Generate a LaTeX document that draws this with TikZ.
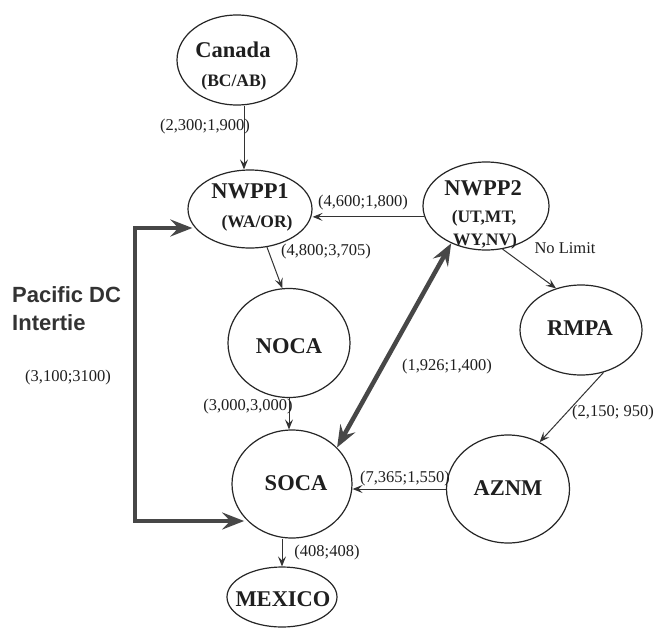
\documentclass[tikz,border=0pt]{standalone}
\usepackage{fontspec}
\setmainfont{Liberation Serif}
\newfontfamily\tiefont{Liberation Sans}
\usetikzlibrary{shapes.geometric,arrows.meta}
\begin{document}
\begin{tikzpicture}[x=1pt,y=-1pt,
  region/.style={draw=black!85, line width=1.2pt, ellipse, inner sep=0pt},
  regname/.style={font=\fontsize{22.5}{24}\selectfont\bfseries, text=black!88, inner sep=0pt, text depth=0pt},
  regsub/.style={font=\fontsize{17.5}{19}\selectfont\bfseries, text=black!88, inner sep=0pt, text depth=0pt},
  limit/.style={font=\fontsize{16.5}{18}\selectfont, text=black!88, inner sep=0pt},
  flow/.style={draw=black!80, line width=1pt, -{Stealth[length=10pt,width=8pt,inset=4pt]}},
  tie/.style={draw=black!72, line width=4.5pt,
    {Stealth[length=22pt,width=17pt,inset=8pt]}-{Stealth[length=22pt,width=17pt,inset=8pt]}}
]
\useasboundingbox (0,0) rectangle (658,629);
\fill[white] (0,0) rectangle (658,629);

% regions
\node[region, minimum width=120pt, minimum height=90pt] (canada) at (237,60) {};
\node[regname] (canada-name) at (233,50) {Canada};
\node[regsub] (canada-sub) at (234,80) {(BC/AB)};

\node[region, minimum width=124pt, minimum height=78pt] (nwpp1) at (250,209) {};
\node[regname] (nwpp1-name) at (250,191) {NWPP1};
\node[regsub] (nwpp1-sub) at (257,221) {(WA/OR)};

\node[region, minimum width=126pt, minimum height=88pt] (nwpp2) at (486,206) {};
\node[regname] (nwpp2-name) at (483,188) {NWPP2};
\node[regsub] (nwpp2-sub1) at (484,216) {(UT,MT,};
\node[regsub] (nwpp2-sub2) at (485,239) {WY,NV)};

\node[region, minimum width=122pt, minimum height=109pt] (noca) at (289,343) {};
\node[regname] (noca-name) at (289,346) {NOCA};

\node[region, minimum width=120pt, minimum height=108pt] (soca) at (292,484) {};
\node[regname] (soca-name) at (296,483) {SOCA};

\node[region, minimum width=122pt, minimum height=90pt] (rmpa) at (581,330) {};
\node[regname] (rmpa-name) at (580,328) {RMPA};

\node[region, minimum width=123pt, minimum height=108pt] (aznm) at (508,489) {};
\node[regname] (aznm-name) at (508,488) {AZNM};

\node[region, minimum width=110pt, minimum height=60pt] (mexico) at (282,597) {};
\node[regname] (mexico-name) at (283,599) {MEXICO};

% transfer paths
\draw[flow] ([xshift=7pt]canada.south) -- ([xshift=7pt]canada.south |- nwpp1.north);
\draw[flow] (nwpp2.190) -- (nwpp2.190 -| nwpp1.east);
\draw[flow] (nwpp1.-66) -- (noca.97);
\draw[flow] (noca.south) -- (noca.south |- soca.north);
\draw[flow] (nwpp2.-69) -- (rmpa.121);
\draw[flow] (rmpa.-62) -- (aznm.56);
\draw[flow] (aznm.west) -- (aznm.west -| soca.east);
\draw[flow] (mexico.north |- soca.south) -- (mexico.north);

\draw[tie] (soca.39) -- (nwpp2.-133);

% Pacific DC Intertie
\coordinate (dc-top) at (135,228);
\coordinate (dc-bot) at (135,521);
\draw[tie] (dc-top -| nwpp1.195) -- (dc-top) -- (dc-bot) -- (dc-bot -| soca.215);

% limits
\node[limit] (l-canada) at (205,127) {(2,300;1,900)};
\node[limit] (l-nwpp2-nwpp1) at (363,203) {(4,600;1,800)};
\node[limit] (l-nwpp1-noca) at (326,252) {(4,800;3,705)};
\node[limit] (l-noca-soca) at (248,407) {(3,000,3,000)};
\node[limit] (l-nwpp2-soca) at (447,367) {(1,926;1,400)};
\node[limit] (l-nwpp2-rmpa) at (565,248) {No Limit};
\node[limit] (l-rmpa-aznm) at (613,413) {(2,150; 950)};
\node[limit] (l-aznm-soca) at (405,479) {(7,365;1,550)};
\node[limit] (l-soca-mexico) at (327,553) {(408;408)};
\node[limit] (l-dc) at (68,378) {(3,100;3100)};

\node[font=\tiefont\bfseries\fontsize{22}{28}\selectfont, text=black!80, align=left,
  anchor=north west, inner sep=0pt] (dc-name) at (12,286) {Pacific DC\\Intertie};
\end{tikzpicture}
\end{document}
